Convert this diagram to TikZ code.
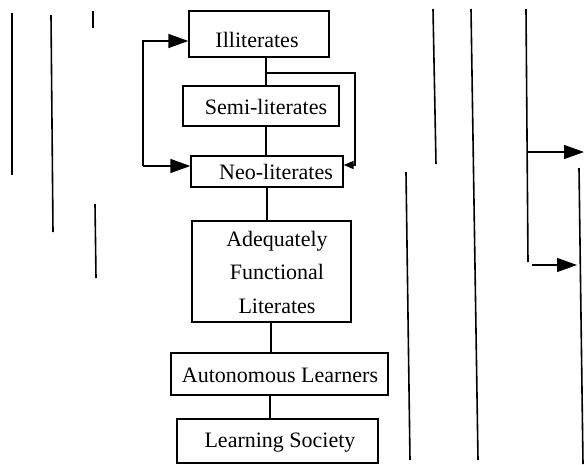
\documentclass[tikz,border=0pt]{standalone}
\usepackage{fontspec}
\setmainfont{Liberation Serif}
\usetikzlibrary{arrows.meta}
\begin{document}
\begin{tikzpicture}[x=1pt,y=-1pt,
  every path/.style={line width=1.4pt},
  box/.style={draw,line width=1.3pt,inner sep=0pt,minimum width=#1},
  lbl/.style={inner sep=0pt,font=\fontsize{22}{33.5}\selectfont,align=center},
  bigtip/.style={-{Triangle[length=20pt,width=14pt]}},
  smalltip/.style={-{Triangle[length=10pt,width=8pt]}},
  rule/.style={line width=1.6pt}]
\useasboundingbox (0,0) rectangle (584,464);

% boxes of the ladder
\node[box=140pt,minimum height=46pt] (ill)   at (259,34)    {};
\node[box=156pt,minimum height=40pt] (semi)  at (261,106)   {};
\node[box=152pt,minimum height=31pt] (neo)   at (267,171.5) {};
\node[box=159pt,minimum height=101pt] (adeq) at (271.5,271.5) {};
\node[box=217pt,minimum height=42pt] (auto)  at (279.5,374) {};
\node[box=201pt,minimum height=44pt] (learn) at (277.5,441) {};

% labels
\node[lbl] (illT)   at (257,40)  {Illiterates};
\node[lbl] (semiT)  at (266,107) {Semi-literates};
\node[lbl] (neoT)   at (276,172) {Neo-literates};
\node[lbl] (adeqT)  at (277,272) {Adequately\\Functional\\Literates};
\node[lbl] (autoT)  at (280,375) {Autonomous Learners};
\node[lbl] (learnT) at (280,443) {Learning Society};

% vertical links between the boxes
\coordinate (c1) at (266,0);
\coordinate (c2) at (267,0);
\coordinate (c3) at (271,0);
\coordinate (c4) at (270,0);
\draw (ill.south -| c1) -- (semi.north -| c1);
\draw (semi.south -| c1) -- (neo.north -| c1);
\draw (neo.south -| c2) -- (adeq.north -| c2);
\draw (adeq.south -| c3) -- (auto.north -| c3);
\draw (auto.south -| c4) -- (learn.north -| c4);

% bypass from the illiterates straight to the neo-literates
\coordinate (byA) at (266,73);
\coordinate (byB) at (355,73);
\coordinate (byC) at (355,165);
\draw[smalltip] (byA) -- (byB) -- (byC) -- (neo.east |- byC);

% feedback loop on the left
\coordinate (lt) at (143,41);
\coordinate (lb) at (143,166);
\draw[bigtip] (lb) -- (lt) -- (ill.west |- lt);
\draw[bigtip] (lb) -- (neo.west |- lb);

% vertical rules on the left
\draw[rule] (12,13) -- (12,175);
\draw[rule] (51,15) -- (53,232);
\draw[rule] (93,11) -- (93,28);
\draw[rule] (95,204) -- (96,278);

% vertical rules on the right
\draw[rule] (433,9) -- (436,164);
\draw[rule] (406,172) -- (410,460);
\draw[rule] (471,9) -- (478,460);
\draw[rule] (526,9) -- (528,262);
\draw[rule] (579,168) -- (583,464);

% arrows leaving the right-hand rule
\coordinate (ra1) at (527,152);
\coordinate (rb1) at (584,152);
\coordinate (ra2) at (532,265);
\coordinate (rb2) at (577,265);
\draw[bigtip] (ra1) -- (rb1);
\draw[bigtip] (ra2) -- (rb2);
\end{tikzpicture}
\end{document}
